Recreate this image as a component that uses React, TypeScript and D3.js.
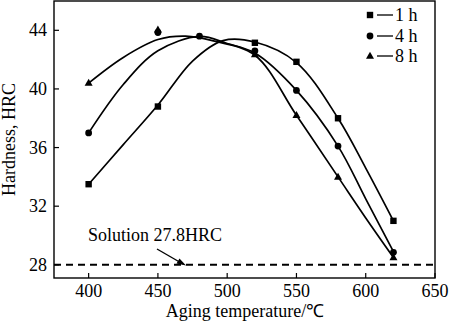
import React from "react";
import * as d3 from "d3";

const xTicks = [400, 450, 500, 550, 600, 650];
const yTicks = [28, 32, 36, 40, 44];

// fitted curves
const curve1h: [number, number][] = [[400, 33.5], [425, 36.2], [450, 38.9], [475, 41.9], [497, 43.3], [520, 43.2], [550, 41.8], [580, 38.0], [600, 34.6], [620, 31.0]];
const curve4h: [number, number][] = [[400, 37.0], [425, 40.3], [450, 42.6], [480, 43.58], [500, 43.1], [520, 42.45], [550, 39.9], [580, 36.1], [600, 32.5], [620, 28.9]];
const curve8h: [number, number][] = [[400, 40.4], [425, 42.15], [450, 43.37], [470, 43.6], [490, 43.28], [520, 42.3], [550, 38.2], [580, 34.0], [600, 31.2], [620, 28.5]];

// measured points
const pts1h: [number, number][] = [[400, 33.5], [450, 38.8], [520, 43.15], [550, 41.85], [580, 38.0], [620, 31.0]];
const pts4h: [number, number][] = [[400, 37.0], [450, 43.85], [480, 43.6], [520, 42.6], [550, 39.9], [580, 36.1], [620, 28.85]];
const pts8h: [number, number][] = [[400, 40.4], [450, 44.05], [520, 42.35], [550, 38.2], [580, 34.0], [620, 28.5]];

const legendLabels = ["1 h", "4 h", "8 h"];
const solutionValue = 28;
const solutionLabel = "Solution 27.8HRC";

const W = 450, H = 324;
const L = 54, R = 435, T = 1, B = 278;
const font = "'Liberation Serif', 'Times New Roman', serif";
const FS = 18;

export default function App() {
  const x = d3.scaleLinear().domain([375, 650]).range([L, R]);
  const y = d3.scaleLinear().domain([27.1, 46]).range([B, T]);
  const line = d3.line<[number, number]>().x(d => x(d[0])).y(d => y(d[1])).curve(d3.curveCatmullRom.alpha(0.5));

  const square = (cx: number, cy: number, k: string) => <rect key={k} x={cx - 3.2} y={cy - 3.2} width={6.4} height={6.4} fill="#000" />;
  const circle = (cx: number, cy: number, k: string) => <circle key={k} cx={cx} cy={cy} r={3.4} fill="#000" />;
  const tri = (cx: number, cy: number, k: string) => <path key={k} d={`M${cx},${cy - 4.2}L${cx + 4},${cy + 2.8}L${cx - 4},${cy + 2.8}Z`} fill="#000" />;

  const ys = y(solutionValue);
  const legendY = [15, 36, 56];
  const markers = [square, circle, tri];

  return (
    <svg width={W} height={H} style={{ position: "absolute", left: 0, top: 0, background: "#fff" }} fontFamily={font}>
      <rect x={0} y={0} width={W} height={H} fill="#fff" />
      {/* dashed solution line */}
      <line x1={L} x2={R} y1={ys} y2={ys} stroke="#000" strokeWidth={2} strokeDasharray="7,5" />
      <text x={88} y={241} fontSize={FS}>{solutionLabel}</text>
      <line x1={157} y1={249} x2={183} y2={264} stroke="#000" strokeWidth={1.4} />
      <path d="M186,265.5 L176.5,263.5 L179.5,258.5 Z" fill="#000" />

      {/* curves */}
      {[curve1h, curve4h, curve8h].map((c, i) => (
        <path key={i} d={line(c) || ""} fill="none" stroke="#000" strokeWidth={1.7} />
      ))}
      {pts1h.map((p, i) => square(x(p[0]), y(p[1]), "s" + i))}
      {pts4h.map((p, i) => circle(x(p[0]), y(p[1]), "c" + i))}
      {pts8h.map((p, i) => tri(x(p[0]), y(p[1]), "t" + i))}

      {/* frame */}
      <rect x={L} y={T} width={R - L} height={B - T} fill="none" stroke="#000" strokeWidth={1.4} />

      {/* ticks */}
      {xTicks.map(t => (
        <g key={"x" + t}>
          <line x1={x(t)} x2={x(t)} y1={B} y2={B - 5} stroke="#000" strokeWidth={1.2} />
          <text x={x(t)} y={297} fontSize={FS} textAnchor="middle">{t}</text>
        </g>
      ))}
      {yTicks.map(t => (
        <g key={"y" + t}>
          <line x1={L} x2={L + 5} y1={y(t)} y2={y(t)} stroke="#000" strokeWidth={1.2} />
          <text x={47} y={y(t) + 6} fontSize={FS} textAnchor="end">{t}</text>
        </g>
      ))}

      {/* axis titles */}
      <text x={245} y={317} fontSize={FS} textAnchor="middle">Aging temperature/℃</text>
      <text transform={`translate(15,${(T + B) / 2}) rotate(-90)`} fontSize={FS} textAnchor="middle">Hardness, HRC</text>

      {/* legend */}
      {legendLabels.map((lab, i) => (
        <g key={lab}>
          {markers[i](370, legendY[i], "lg" + i)}
          <line x1={377} x2={393} y1={legendY[i]} y2={legendY[i]} stroke="#000" strokeWidth={1.3} />
          <text x={395} y={legendY[i] + 6} fontSize={FS}>{lab}</text>
        </g>
      ))}
    </svg>
  );
}
